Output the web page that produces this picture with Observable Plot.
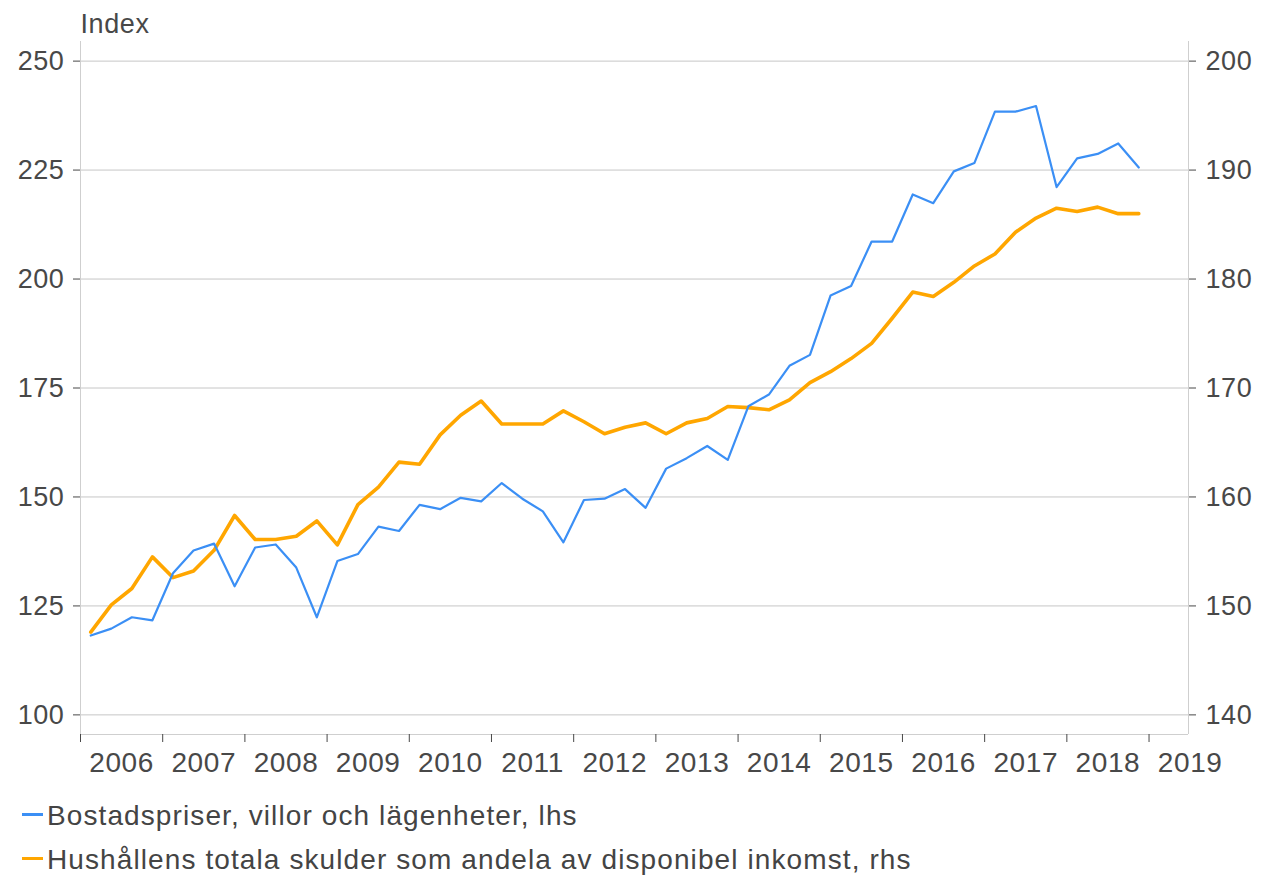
<!DOCTYPE html>
<html><head><meta charset="utf-8">
<script src="https://cdn.jsdelivr.net/npm/d3@7"></script>
<script src="https://cdn.jsdelivr.net/npm/@observablehq/plot@0.6"></script>
<style>
body{margin:0;background:#fff;font-family:"Liberation Sans",Arial,sans-serif;}
#chart svg text{letter-spacing:0.6px}
.legend{margin-top:4px;color:#444;font-size:28px;letter-spacing:1.1px}
.row{height:44px;line-height:44px;display:flex;align-items:center;padding-left:22px}
.sw{width:21px;height:3px;margin-right:4px;position:relative;top:-2px}
</style></head><body>
<div id="chart"></div>
<div class="legend">
  <div class="row"><span class="sw" style="background:#3b8ff5"></span><span id="lg1"></span></div>
  <div class="row"><span class="sw" style="background:#ffa600"></span><span id="lg2"></span></div>
</div>
<script>
// Quarterly observations, 2006 Q1 – 2018 Q4
const years = [2006,2007,2008,2009,2010,2011,2012,2013,2014,2015,2016,2017,2018];
const quarterNumbers = [1,2,3,4];

// Bostadspriser, villor och lägenheter (index, left axis)
const housePrices = [
  118.2,119.8,122.4,121.7, 132.5,137.7,139.3,129.5, 138.4,139.1,133.8,122.4,
  135.3,136.9,143.2,142.2, 148.2,147.2,149.8,149.0, 153.2,149.6,146.7,139.6,
  149.3,149.6,151.8,147.5, 156.5,158.9,161.7,158.5, 170.8,173.5,180.1,182.6,
  196.2,198.4,208.6,208.6, 219.4,217.4,224.7,226.6, 238.4,238.4,239.7,221.1,
  227.7,228.7,231.1,225.6
];

// Hushållens totala skulder som andel av disponibel inkomst (percent, right axis)
const debtRatio = [
  147.6,150.1,151.6,154.5, 152.6,153.2,155.1,158.3, 156.1,156.1,156.4,157.8,
  155.6,159.3,160.9,163.2, 163.0,165.7,167.5,168.8, 166.7,166.7,166.7,167.9,
  166.9,165.8,166.4,166.8, 165.8,166.8,167.2,168.3, 168.2,168.0,168.9,170.5,
  171.5,172.7,174.1,176.4, 178.8,178.4,179.7,181.2, 182.3,184.3,185.6,186.5,
  186.2,186.6,186.0,186.0
];

const leftTicks = [100,125,150,175,200,225,250];
const rightTickLabels = ["140","150","160","170","180","190","200"];
const yearTickLabels = ["2006","2007","2008","2009","2010","2011","2012","2013","2014","2015","2016","2017","2018","2019"];
const seriesNames = ["Bostadspriser, villor och lägenheter, lhs","Hushållens totala skulder som andela av disponibel inkomst, rhs"];
const axisTitle = "Index";

// right axis (140–200) aligned with left axis (100–250)
const toLeft = r => (r - 100) / 0.4;

const rows = [];
years.forEach((y, yi) => quarterNumbers.forEach((q, qi) => {
  const i = yi * 4 + qi;
  rows.push({t: y + (q - 1) / 4 + 0.125, house: housePrices[i], debt: toLeft(debtRatio[i])});
}));

const boundaryTicks = yearTickLabels.map(d => +d);
const labelTicks = yearTickLabels.map(d => +d + 0.5);

const chart = Plot.plot({
  width: 1264,
  height: 790,
  marginLeft: 80,
  marginRight: 76,
  marginTop: 41,
  marginBottom: 56,
  style: {fontFamily: "Liberation Sans, Arial, sans-serif", fontSize: "27px", color: "#484848", background: "#fff"},
  x: {type: "linear", domain: [2006, 2019.48], label: null},
  y: {domain: [95.5, 254.5], label: null},
  marks: [
    Plot.gridY(leftTicks, {stroke: "#c6c6c6", strokeOpacity: 1}),
    Plot.ruleX([2006, 2019.48], {stroke: "#cfcfcf"}),
    Plot.ruleY([95.5], {stroke: "#cfcfcf"}),
    Plot.axisY(leftTicks, {anchor: "left", tickSize: 7, tickPadding: 9, fontSize: 27, tickFormat: d => String(d), label: null}),
    Plot.axisY(leftTicks, {anchor: "right", tickSize: 7, tickPadding: 10, fontSize: 27,
      tickFormat: d => rightTickLabels[leftTicks.indexOf(d)], label: null}),
    Plot.axisX(boundaryTicks, {anchor: "bottom", tickSize: 8, tickFormat: () => "", label: null}),
    Plot.axisX(labelTicks, {anchor: "bottom", tickSize: 0, tickPadding: 18, fontSize: 28,
      tickFormat: d => yearTickLabels[Math.floor(d) - 2006], label: null}),
    Plot.text([axisTitle], {frameAnchor: "top-left", textAnchor: "start", lineAnchor: "bottom", dy: -9, fontSize: 27, fill: "#484848"}),
    Plot.line(rows, {x: "t", y: "debt", stroke: "#ffa600", strokeWidth: 3.6}),
    Plot.line(rows, {x: "t", y: "house", stroke: "#3b8ff5", strokeWidth: 2.2})
  ]
});
document.getElementById("chart").append(chart);
document.getElementById("lg1").textContent = seriesNames[0];
document.getElementById("lg2").textContent = seriesNames[1];
</script>
</body></html>
